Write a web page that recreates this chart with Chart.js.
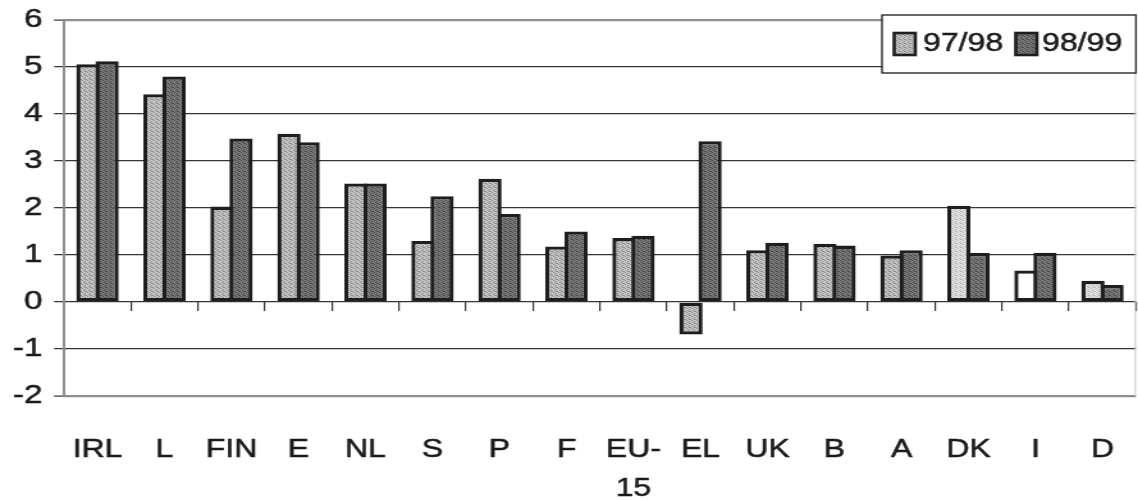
<!DOCTYPE html>
<html>
<head>
<meta charset="utf-8">
<script src="https://cdn.jsdelivr.net/npm/chart.js@4.4.1/dist/chart.umd.min.js"></script>
<style>
  html, body { margin: 0; padding: 0; background: #fff; overflow: hidden; }
  #wrap { width: 1138px; height: 500px; overflow: hidden; }
  /* the chart is laid out at a narrower width and widened horizontally */
  #c { display: block; transform: scaleX(1.2801); transform-origin: 0 0; }
</style>
</head>
<body>
<div id="wrap"><canvas id="c" width="889" height="500"></canvas></div>
<script>
// ---- data ----
const categories = ['IRL', 'L', 'FIN', 'E', 'NL', 'S', 'P', 'F', ['EU-', '15'], 'EL', 'UK', 'B', 'A', 'DK', 'I', 'D'];
const seriesNames = ['97/98', '98/99'];
const values9798 = [5.06, 4.42, 2.03, 3.58, 2.52, 1.30, 2.62, 1.18, 1.36, -0.69, 1.10, 1.24, 0.99, 2.05, 0.67, 0.45];
const values9899 = [5.12, 4.80, 3.48, 3.40, 2.52, 2.25, 1.87, 1.50, 1.41, 3.42, 1.26, 1.20, 1.10, 1.04, 1.05, 0.36];
const yTicks = [-2, -1, 0, 1, 2, 3, 4, 5, 6];

// ---- styling helpers ----
const FONT = '"Liberation Sans", Arial, sans-serif';
const TEXT = '#1a1a1a';
const TEXT_STROKE = 0.5;
const EDGE = '#1e1e1e';
const canvas = document.getElementById('c');
const ctx = canvas.getContext('2d');

function stipple(base, dot) {
  const p = document.createElement('canvas');
  p.width = 4; p.height = 4;
  const g = p.getContext('2d');
  g.fillStyle = base; g.fillRect(0, 0, 4, 4);
  g.fillStyle = dot;
  [[0, 0], [2, 1], [1, 2], [3, 3], [2, 3]].forEach(([x, y]) => g.fillRect(x, y, 1, 1));
  return ctx.createPattern(p, 'repeat');
}

const lightFill = stipple('#c4c4c4', '#8a8a8a');
const paleFill = stipple('#e2e2e2', '#b6b6b6');
const darkFill = stipple('#787878', '#484848');

// per-bar fills of the first series (a few countries are shaded paler)
const fills9798 = categories.map(c => {
  const name = Array.isArray(c) ? c.join('') : c;
  if (name === 'I') return '#ffffff';
  if (name === 'DK' || name === 'D') return paleFill;
  return lightFill;
});

// boxed legend in the top right corner of the plot
const boxLegend = {
  id: 'boxLegend',
  afterDraw(chart) {
    const c = chart.ctx;
    const area = chart.chartArea;
    const left = 689, top = 15, bottom = 73, right = area.right;
    c.save();
    c.fillStyle = '#ffffff';
    c.fillRect(left, top, right - left, bottom - top);
    c.strokeStyle = '#2a2a2a';
    c.lineWidth = 1.4;
    c.strokeRect(left, top, right - left, bottom - top);
    const items = [
      { x: 698.5, tx: 721, fill: lightFill },
      { x: 793.5, tx: 814, fill: darkFill }
    ];
    chart.data.datasets.forEach((ds, i) => {
      const it = items[i];
      c.fillStyle = it.fill;
      c.fillRect(it.x, 33, 16.5, 22);
      c.strokeStyle = EDGE;
      c.lineWidth = 2.6;
      c.strokeRect(it.x, 33, 16.5, 22);
      c.font = '25px ' + FONT;
      c.textBaseline = 'middle';
      c.textAlign = 'left';
      c.strokeStyle = TEXT;
      c.lineWidth = TEXT_STROKE;
      c.strokeText(ds.label, it.tx, 44);
      c.fillStyle = TEXT;
      c.fillText(ds.label, it.tx, 44);
    });
    c.restore();
  }
};

// faint frame line on the right side of the plot
const rightFrame = {
  id: 'rightFrame',
  beforeDatasetsDraw(chart) {
    const c = chart.ctx;
    const a = chart.chartArea;
    c.save();
    c.strokeStyle = '#c4c4c4';
    c.lineWidth = 1;
    c.beginPath();
    c.moveTo(a.right - 0.5, a.top);
    c.lineTo(a.right - 0.5, a.bottom);
    c.stroke();
    c.restore();
  }
};

const edgeValues = [yTicks[0], yTicks[yTicks.length - 1]];

new Chart(canvas, {
  type: 'bar',
  data: {
    labels: categories,
    datasets: [
      {
        label: seriesNames[0],
        data: values9798,
        backgroundColor: fills9798,
        borderColor: EDGE,
        borderWidth: 3.3,
        borderSkipped: false
      },
      {
        label: seriesNames[1],
        data: values9899,
        backgroundColor: darkFill,
        borderColor: EDGE,
        borderWidth: 3.3,
        borderSkipped: false
      }
    ]
  },
  options: {
    responsive: false,
    devicePixelRatio: 1,
    animation: false,
    categoryPercentage: 0.57,
    barPercentage: 1.22,
    layout: { padding: { top: 20, right: 1.6, left: 0, bottom: 0 } },
    plugins: {
      legend: { display: false },
      tooltip: { enabled: false }
    },
    scales: {
      x: {
        type: 'category',
        offset: true,
        grid: { display: false, offset: true },
        border: { display: false },
        ticks: {
          color: TEXT,
          textStrokeColor: TEXT,
          textStrokeWidth: TEXT_STROKE,
          padding: 27,
          maxRotation: 0,
          autoSkip: false,
          font: { family: FONT, size: 25, lineHeight: 1.56 }
        },
        afterFit(scale) {
          scale.height = 104;
          scale.paddingLeft = 0;
          scale.paddingRight = 0;
        }
      },
      x2: {
        type: 'category',
        labels: categories,
        position: { y: 0 },
        offset: true,
        grid: {
          offset: true,
          drawOnChartArea: false,
          drawTicks: true,
          tickLength: 9,
          color: '#333',
          lineWidth: 1.2
        },
        border: { display: false },
        ticks: { display: false },
        afterFit(scale) {
          scale.paddingLeft = 0;
          scale.paddingRight = 0;
        }
      },
      y: {
        min: yTicks[0],
        max: yTicks[yTicks.length - 1],
        afterBuildTicks(scale) {
          scale.ticks = yTicks.map(v => ({ value: v }));
        },
        grid: {
          color: c => edgeValues.includes(c.tick && c.tick.value) ? '#8e8e8e' : '#353535',
          lineWidth: c => edgeValues.includes(c.tick && c.tick.value) ? 2.2 : 1.3,
          tickColor: '#333',
          tickWidth: 1.2,
          tickLength: 7.8,
          drawTicks: true
        },
        border: { display: true, color: '#8e8e8e', width: 2 },
        ticks: {
          color: TEXT,
          textStrokeColor: TEXT,
          textStrokeWidth: TEXT_STROKE,
          padding: 9,
          font: { family: FONT, size: 26 }
        },
        afterFit(scale) {
          scale.width = 50;
          scale.paddingTop = 0;
          scale.paddingBottom = 0;
        }
      }
    }
  },
  plugins: [rightFrame, boxLegend]
});
</script>
</body>
</html>
